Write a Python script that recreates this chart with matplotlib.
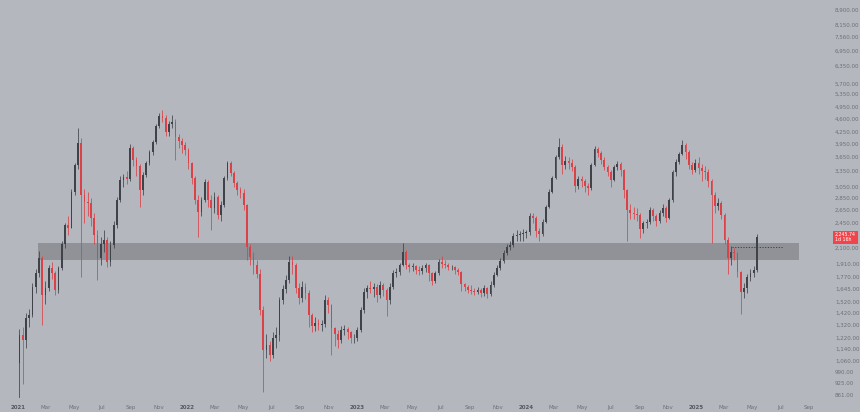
import matplotlib
matplotlib.use("Agg")
import matplotlib.pyplot as plt
import matplotlib.dates as mdates
import numpy as np
import pandas as pd
from matplotlib.ticker import FixedLocator, NullLocator, FuncFormatter

# weekly candles, first week starts 2021-01-04
first_week = "2021-01-04"
first_open = 1050

closes = [
    1239, 1202, 1374, 1399, 1658, 1805, 1977, 1580, 1648, 1861,
    1805, 1628, 1861, 2152, 2414, 2380, 2950, 3476, 3971, 2897,
    2776, 2759, 2520, 2272, 1977, 2152, 2205, 1930, 2139, 2414,
    2810, 3173, 3231, 3200, 3852, 3582, 3455, 2986, 3270, 3518,
    3760, 3995, 4403, 4680, 4620, 4247, 4456, 4510, 4120, 4019,
    3923, 3806, 3518, 3212, 2810, 2613, 2810, 3135, 2810, 2677,
    2862, 2566, 2726, 3212, 3518, 3310, 3116, 2986, 2932, 2726,
    2113, 1989, 1895, 1794, 1442, 1131, 1166, 1097, 1217, 1239,
    1532, 1638, 1730, 1930, 1895, 1648, 1552, 1658, 1599, 1399,
    1309, 1333, 1317, 1325, 1532, 1487, 1293, 1247, 1202, 1277,
    1285, 1262, 1217, 1222, 1277, 1442, 1609, 1648, 1638, 1658,
    1580, 1679, 1628, 1532, 1658, 1805, 1816, 1895, 2050, 1895,
    1872, 1883, 1838, 1827, 1861, 1895, 1805, 1720, 1805, 1930,
    1906, 1900, 1872, 1872, 1838, 1816, 1689, 1658, 1628, 1622,
    1609, 1628, 1599, 1648, 1590, 1679, 1783, 1861, 1941, 2037,
    2113, 2139, 2258, 2272, 2286, 2300, 2310, 2550, 2520, 2329,
    2286, 2459, 2693, 2950, 3212, 3649, 3876, 3476, 3560, 3518,
    3434, 3060, 3192, 3154, 3060, 3023, 3476, 3829, 3738, 3582,
    3434, 3330, 3173, 3434, 3497, 3371, 2986, 2645, 2597, 2590,
    2566, 2357, 2444, 2459, 2645, 2550, 2474, 2597, 2677, 2520,
    2810, 3330, 3539, 3716, 3923, 3760, 3476, 3371, 3518, 3413,
    3350, 3330, 3154, 2897, 2710, 2759, 2566, 2205, 1977, 2050,
    2037, 1816, 1609, 1648, 1762, 1805, 1838, 2245,
]

highs = [
    1290, 1300, 1420, 1450, 1700, 1850, 2060, 2000, 1720, 1900,
    1930, 1830, 1890, 2200, 2450, 2550, 3000, 3520, 4340, 4100,
    3000, 2950, 2850, 2600, 2350, 2250, 2350, 2250, 2200, 2480,
    2870, 3250, 3300, 3350, 3950, 3900, 3650, 3500, 3330, 3560,
    3800, 4050, 4450, 4760, 4850, 4700, 4550, 4700, 4600, 4200,
    4100, 4000, 3850, 3550, 3250, 2900, 2870, 3200, 3180, 2900,
    2950, 2900, 2800, 3260, 3560, 3560, 3350, 3150, 3050, 3000,
    2750, 2150, 2050, 1950, 1850, 1480, 1250, 1200, 1260, 1300,
    1560, 1680, 1780, 2000, 2000, 1920, 1700, 1720, 1700, 1630,
    1420, 1380, 1370, 1360, 1580, 1560, 1500, 1300, 1280, 1310,
    1320, 1300, 1270, 1250, 1300, 1470, 1650, 1680, 1720, 1700,
    1690, 1720, 1700, 1650, 1700, 1840, 1860, 1920, 2165, 2080,
    1920, 1920, 1900, 1880, 1900, 1920, 1910, 1820, 1830, 1970,
    2000, 1950, 1920, 1900, 1880, 1860, 1830, 1700, 1680, 1680,
    1650, 1660, 1650, 1680, 1660, 1720, 1820, 1900, 1980, 2080,
    2150, 2200, 2300, 2350, 2330, 2360, 2350, 2600, 2600, 2550,
    2380, 2500, 2730, 3000, 3260, 3700, 4100, 3950, 3680, 3650,
    3600, 3480, 3250, 3250, 3200, 3120, 3520, 3900, 3880, 3780,
    3650, 3480, 3380, 3480, 3560, 3540, 3400, 3000, 2750, 2700,
    2680, 2600, 2480, 2500, 2700, 2680, 2580, 2640, 2740, 2720,
    2850, 3380, 3600, 3760, 4040, 3980, 3800, 3550, 3600, 3650,
    3500, 3450, 3400, 3200, 2950, 2850, 2800, 2600, 2250, 2130,
    2100, 2050, 1830, 1700, 1800, 1850, 1880, 2290,
]

lows = [
    835, 920, 1150, 1300, 1380, 1600, 1760, 1320, 1500, 1620,
    1740, 1580, 1600, 1840, 2100, 2280, 2380, 2900, 3400, 1760,
    2450, 2550, 2400, 2150, 1730, 1900, 2050, 1870, 1880, 2100,
    2380, 2780, 3050, 3100, 3150, 3450, 3250, 2700, 2900, 3230,
    3480, 3700, 3950, 4350, 4500, 4150, 4150, 4350, 3580, 3850,
    3750, 3700, 3400, 3100, 2750, 2250, 2550, 2780, 2700, 2350,
    2600, 2500, 2480, 2700, 3180, 3250, 3050, 2900, 2850, 2650,
    1950, 1900, 1800, 1750, 1400, 880, 1080, 1060, 1080, 1150,
    1200, 1500, 1600, 1700, 1800, 1600, 1500, 1520, 1540, 1300,
    1260, 1270, 1280, 1270, 1300, 1420, 1100, 1160, 1150, 1180,
    1240, 1210, 1180, 1180, 1200, 1260, 1420, 1550, 1600, 1560,
    1520, 1550, 1570, 1390, 1500, 1640, 1760, 1780, 1880, 1850,
    1820, 1830, 1800, 1790, 1800, 1820, 1720, 1680, 1700, 1790,
    1860, 1860, 1840, 1840, 1800, 1780, 1620, 1620, 1600, 1590,
    1580, 1590, 1560, 1570, 1550, 1570, 1660, 1770, 1840, 1920,
    2010, 2080, 2120, 2200, 2200, 2200, 2230, 2280, 2450, 2250,
    2200, 2260, 2440, 2680, 2930, 3200, 3600, 3300, 3400, 3400,
    3350, 2950, 3000, 3050, 2950, 2900, 2980, 3450, 3650, 3500,
    3380, 3250, 3050, 3150, 3380, 3250, 2850, 2190, 2500, 2500,
    2480, 2230, 2300, 2380, 2430, 2480, 2400, 2440, 2560, 2460,
    2500, 2780, 3250, 3500, 3700, 3600, 3400, 3300, 3330, 3300,
    3150, 3200, 3050, 2170, 2600, 2650, 2500, 2150, 1800, 1900,
    1950, 1760, 1410, 1550, 1600, 1720, 1760, 1820,
]

price_ticks = [8900, 8150, 7560, 6950, 6350, 5700, 5350, 4950, 4600, 4250,
               3950, 3650, 3350, 3050, 2850, 2650, 2450, 2100, 1910, 1770,
               1645, 1520, 1420, 1320, 1220, 1140, 1060, 990, 925, 861]

zone_low, zone_high = 1953, 2165
zone_start, zone_end = "2021-02-13", "2025-08-10"
level_price = 2120
level_start, level_end = "2025-03-20", "2025-07-06"
last_price_text = "2,245.74"
countdown_text = "1d 16h"

BG = "#b4b7be"
UP = "#3f4249"
DOWN = "#da4247"
TXT = "#6d7077"

dates = pd.date_range(first_week, periods=len(closes), freq="7D")
x = mdates.date2num(dates)
opens = [first_open] + closes[:-1]

fig = plt.figure(figsize=(8.6, 4.12), dpi=100, facecolor=BG)
ax = fig.add_axes([0.0, 0.034, 828 / 860, 0.966])
ax.set_facecolor(BG)

# support / resistance zone
ax.fill_between(mdates.date2num(pd.to_datetime([zone_start, zone_end])),
                zone_low, zone_high, color="#8c8e93", alpha=0.9,
                linewidth=0, zorder=1)

# candles
width = 3.8
for xi, o, h, l, c in zip(x, opens, highs, lows, closes):
    color = UP if c >= o else DOWN
    ax.vlines(xi, l, h, color=color, linewidth=0.55, zorder=3)
    bottom = min(o, c)
    height = max(abs(c - o), bottom * 0.004)
    ax.bar(xi, height, width=width, bottom=bottom, color=color,
           linewidth=0, zorder=4)

# dotted level
ax.hlines(level_price, *mdates.date2num(pd.to_datetime([level_start, level_end])),
          colors="#3c3f45", linewidth=0.7, linestyles=(0, (1.2, 1.6)), zorder=5)

ax.set_yscale("log")
ax.set_ylim(847, 9456)
ax.set_xlim(mdates.date2num(pd.Timestamp("2020-11-23")),
            mdates.date2num(pd.Timestamp("2025-10-12")))

# right price scale
ax.yaxis.tick_right()
ax.yaxis.set_major_locator(FixedLocator(price_ticks))
ax.yaxis.set_minor_locator(NullLocator())
ax.yaxis.set_major_formatter(FuncFormatter(lambda v, _p: f"{v:,.2f}"))
ax.tick_params(axis="y", length=0, pad=5, labelsize=4, labelcolor=TXT)

# time scale
month_ticks = pd.date_range("2021-01-01", "2025-09-01", freq="2MS")
ax.set_xticks(mdates.date2num(month_ticks))
ax.set_xticklabels([d.strftime("%Y") if d.month == 1 else d.strftime("%b")
                    for d in month_ticks])
ax.tick_params(axis="x", length=0, pad=5, labelsize=4, labelcolor=TXT)
for lbl, d in zip(ax.get_xticklabels(), month_ticks):
    if d.month == 1:
        lbl.set_fontweight("bold")
        lbl.set_color("#55585f")

for s in ax.spines.values():
    s.set_visible(False)

# last price tag
ax.annotate(f"{last_price_text}\n{countdown_text}", xy=(1.0, closes[-1]),
            xycoords=("axes fraction", "data"), xytext=(5, 0),
            textcoords="offset points", ha="left", va="center",
            fontsize=3.4, color="white", linespacing=1.0,
            bbox=dict(boxstyle="square,pad=0.35", fc="#f0454a", ec="none"),
            zorder=10, annotation_clip=False)

fig.savefig("out.png", dpi=100, facecolor=BG)
